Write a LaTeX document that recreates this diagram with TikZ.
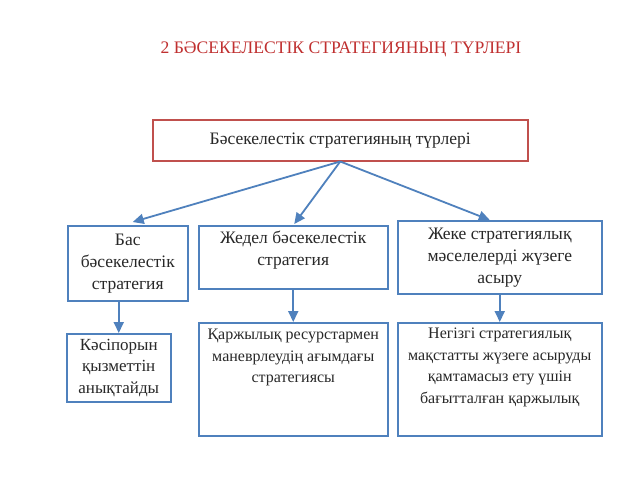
\documentclass[tikz,border=0pt]{standalone}
\usepackage{fontspec}
\setmainfont{Liberation Serif}
\usetikzlibrary{arrows.meta}
\definecolor{lineblue}{RGB}{79,129,189}
\definecolor{boxred}{RGB}{192,80,77}
\definecolor{titlered}{RGB}{192,48,48}
\definecolor{txtgray}{RGB}{40,40,40}
\tikzset{
  bluebox/.style={draw=lineblue, line width=1.5pt, inner sep=0pt, fill=white},
  redbox/.style={draw=boxred, line width=1.5pt, inner sep=0pt, fill=white},
  txt/.style={text=txtgray, font=\fontsize{17.5}{22}\selectfont, align=center, inner sep=0pt},
  smalltxt/.style={txt, font=\fontsize{16}{21.5}\selectfont},
  conn/.style={draw=lineblue, line width=1.8pt, -{Triangle[length=11pt,width=10pt]}},
}
\begin{document}
\begin{tikzpicture}[x=1pt,y=-1pt]
\useasboundingbox (0,0) rectangle (640,480);
\fill[white] (0,0) rectangle (640,480);
\node[text=titlered, font=\fontsize{17.6}{20}\selectfont, inner sep=0pt] (title) at (341,49) {2 БӘСЕКЕЛЕСТІК СТРАТЕГИЯНЫҢ ТҮРЛЕРІ};
\node[redbox, minimum width=375, minimum height=41, anchor=north west] (top) at (152,119) {};
\node[txt] (toptxt) at (top.center) {Бәсекелестік стратегияның түрлері};
% second row
\node[bluebox, minimum width=120, minimum height=75, anchor=north west] (b1) at (67,225) {};
\node[txt] (t1) at (b1.center) {Бас\\бәсекелестік\\стратегия};
\node[bluebox, minimum width=189, minimum height=63, anchor=north west] (b2) at (198,225) {};
\node[txt, anchor=north] (t2) at ([yshift=-6]b2.north) {Жедел бәсекелестік\\стратегия};
\node[bluebox, minimum width=204, minimum height=73, anchor=north west] (b3) at (397,220) {};
\node[txt] (t3) at (b3.center) {Жеке стратегиялық\\мәселелерді жүзеге\\асыру};
% third row
\node[bluebox, minimum width=104, minimum height=68, anchor=north west] (b4) at (66,333) {};
\node[txt, font=\fontsize{17}{21.5}\selectfont] (t4) at (b4.center) {Кәсіпорын\\қызметтін\\анықтайды};
\node[bluebox, minimum width=189, minimum height=113, anchor=north west] (b5) at (198,322) {};
\node[smalltxt, anchor=north] (t5) at ([yshift=-7]b5.north) {Қаржылық ресурстармен\\маневрлеудің ағымдағы\\стратегиясы};
\node[bluebox, minimum width=204, minimum height=113, anchor=north west] (b6) at (397,322) {};
\node[smalltxt, anchor=north] (t6) at ([yshift=-6]b6.north) {Негізгі стратегиялық\\мақстатты жүзеге асыруды\\қамтамасыз ету үшін\\бағытталған қаржылық};
% connectors
\draw[conn] (top.south) -- ([xshift=5,yshift=3]b1.north);
\draw[conn] (top.south) -- ([xshift=1,yshift=1]b2.north);
\draw[conn] (top.south) -- ([xshift=-10,yshift=0]b3.north);
\draw[conn] (b1.south -| b4.north) -- (b4.north);
\draw[conn] (b2.south) -- (b5.north);
\draw[conn] (b3.south) -- (b6.north);
\end{tikzpicture}
\end{document}
